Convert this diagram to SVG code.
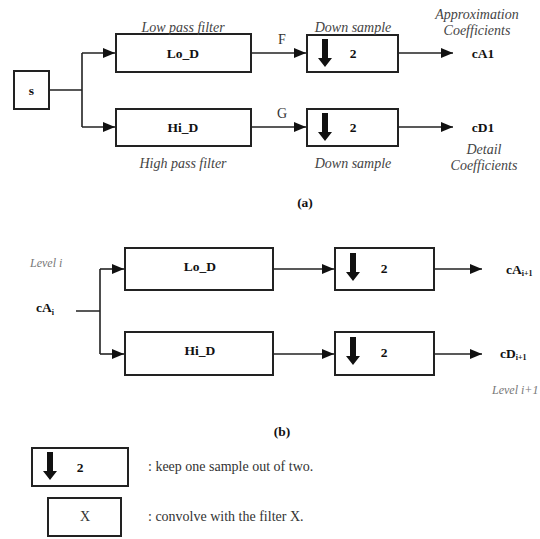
<svg xmlns="http://www.w3.org/2000/svg" width="540" height="539" viewBox="0 0 540 539">
<defs>
<marker id="arr" viewBox="0 0 12 10" refX="12" refY="5" markerWidth="12" markerHeight="10" markerUnits="userSpaceOnUse" orient="auto">
<path d="M0,0 L12,5 L0,10 Z" fill="#111"/>
</marker>
<path id="down" d="M-3,0 H3 V19 H7 L0,28 L-7,19 H-3 Z" fill="#111"/>
</defs>
<style>
.box{fill:#fff;stroke:#222;stroke-width:2}
.ln{fill:none;stroke:#222;stroke-width:1.6}
.b{font-family:"Liberation Serif",serif;font-weight:bold;font-size:13.5px;fill:#111}
.it{font-family:"Liberation Serif",serif;font-style:italic;font-size:14px;fill:#444}
.lv{font-family:"Liberation Serif",serif;font-style:italic;font-size:12px;fill:#777}
.t{font-family:"Liberation Serif",serif;font-size:14px;fill:#333}
.sub{font-size:8px}
</style>
<rect width="540" height="539" fill="#fff"/>
<g id="connectors">
<path class="ln" d="M49,90 H82 M82,53 V127"/>
<path class="ln" d="M82,53 H115" marker-end="url(#arr)"/>
<path class="ln" d="M82,127 H115" marker-end="url(#arr)"/>
<path class="ln" d="M251,53 H306" marker-end="url(#arr)"/>
<path class="ln" d="M251,127 H306" marker-end="url(#arr)"/>
<path class="ln" d="M398,53 H453" marker-end="url(#arr)"/>
<path class="ln" d="M398,127 H453" marker-end="url(#arr)"/>
<path class="ln" d="M76,311 H100 M100,269 V354"/>
<path class="ln" d="M100,269 H124" marker-end="url(#arr)"/>
<path class="ln" d="M100,354 H124" marker-end="url(#arr)"/>
<path class="ln" d="M273,269 H334" marker-end="url(#arr)"/>
<path class="ln" d="M273,354 H334" marker-end="url(#arr)"/>
<path class="ln" d="M434,269 H482" marker-end="url(#arr)"/>
<path class="ln" d="M434,354 H482" marker-end="url(#arr)"/>
</g>
<text class="t" x="282" y="44" text-anchor="middle">F</text>
<text class="t" x="282" y="118" text-anchor="middle">G</text>
<g id="s"><rect class="box" x="14" y="71" width="35" height="38"/><text class="b" x="31.5" y="94.5" text-anchor="middle">s</text></g>
<g id="lo_d_a"><rect class="box" x="116" y="34" width="135" height="38"/><text class="b" x="183" y="58" text-anchor="middle">Lo_D</text>
<text class="it" x="183" y="32" text-anchor="middle">Low pass filter</text></g>
<g id="hi_d_a"><rect class="box" x="116" y="109" width="135" height="37"/><text class="b" x="183" y="132" text-anchor="middle">Hi_D</text>
<text class="it" x="183" y="168" text-anchor="middle">High pass filter</text></g>
<g id="ds1_a"><rect class="box" x="307" y="35" width="91" height="37"/><use href="#down" x="325" y="39"/><text class="b" x="353" y="58" text-anchor="middle">2</text>
<text class="it" x="353" y="32" text-anchor="middle">Down sample</text></g>
<g id="ds2_a"><rect class="box" x="307" y="109" width="91" height="37"/><use href="#down" x="325" y="113"/><text class="b" x="353" y="132" text-anchor="middle">2</text>
<text class="it" x="353" y="168" text-anchor="middle">Down sample</text></g>
<g id="ca1"><text class="b" x="483" y="58" text-anchor="middle">cA1</text>
<text class="it" x="477" y="19" text-anchor="middle">Approximation</text>
<text class="it" x="477" y="35" text-anchor="middle">Coefficients</text></g>
<g id="cd1"><text class="b" x="483" y="132" text-anchor="middle">cD1</text>
<text class="it" x="484" y="154" text-anchor="middle">Detail</text>
<text class="it" x="484" y="170" text-anchor="middle">Coefficients</text></g>
<text class="b" x="305" y="207" text-anchor="middle">(a)</text>
<text class="lv" x="30" y="267">Level i</text>
<g id="cai"><text class="b" x="36" y="312">cA<tspan class="sub" dy="3">i</tspan></text></g>
<g id="lo_d_b"><rect class="box" x="125" y="248" width="148" height="42"/><text class="b" x="200" y="271" text-anchor="middle">Lo_D</text></g>
<g id="hi_d_b"><rect class="box" x="125" y="332" width="148" height="43"/><text class="b" x="200" y="355" text-anchor="middle">Hi_D</text></g>
<g id="ds1_b"><rect class="box" x="335" y="248" width="99" height="42"/><use href="#down" x="353" y="253"/><text class="b" x="384" y="273" text-anchor="middle">2</text></g>
<g id="ds2_b"><rect class="box" x="335" y="332" width="99" height="43"/><use href="#down" x="353" y="337"/><text class="b" x="384" y="357" text-anchor="middle">2</text></g>
<g id="cai1"><text class="b" x="506" y="274">cA<tspan class="sub" dy="2">i+1</tspan></text></g>
<g id="cdi1"><text class="b" x="500" y="358">cD<tspan class="sub" dy="2">i+1</tspan></text></g>
<text class="lv" x="492" y="394">Level i+1</text>
<text class="b" x="282" y="436" text-anchor="middle">(b)</text>
<g id="legend_ds"><rect class="box" x="32" y="448" width="96" height="38"/><use href="#down" x="50" y="452"/><text class="b" x="80" y="472" text-anchor="middle">2</text>
<text class="t" x="148" y="471">: keep one sample out of two.</text></g>
<g id="legend_x"><rect class="box" x="48" y="498" width="73" height="38"/><text class="t" x="85" y="521" text-anchor="middle">X</text>
<text class="t" x="148" y="521">: convolve with the filter X.</text></g>
</svg>
